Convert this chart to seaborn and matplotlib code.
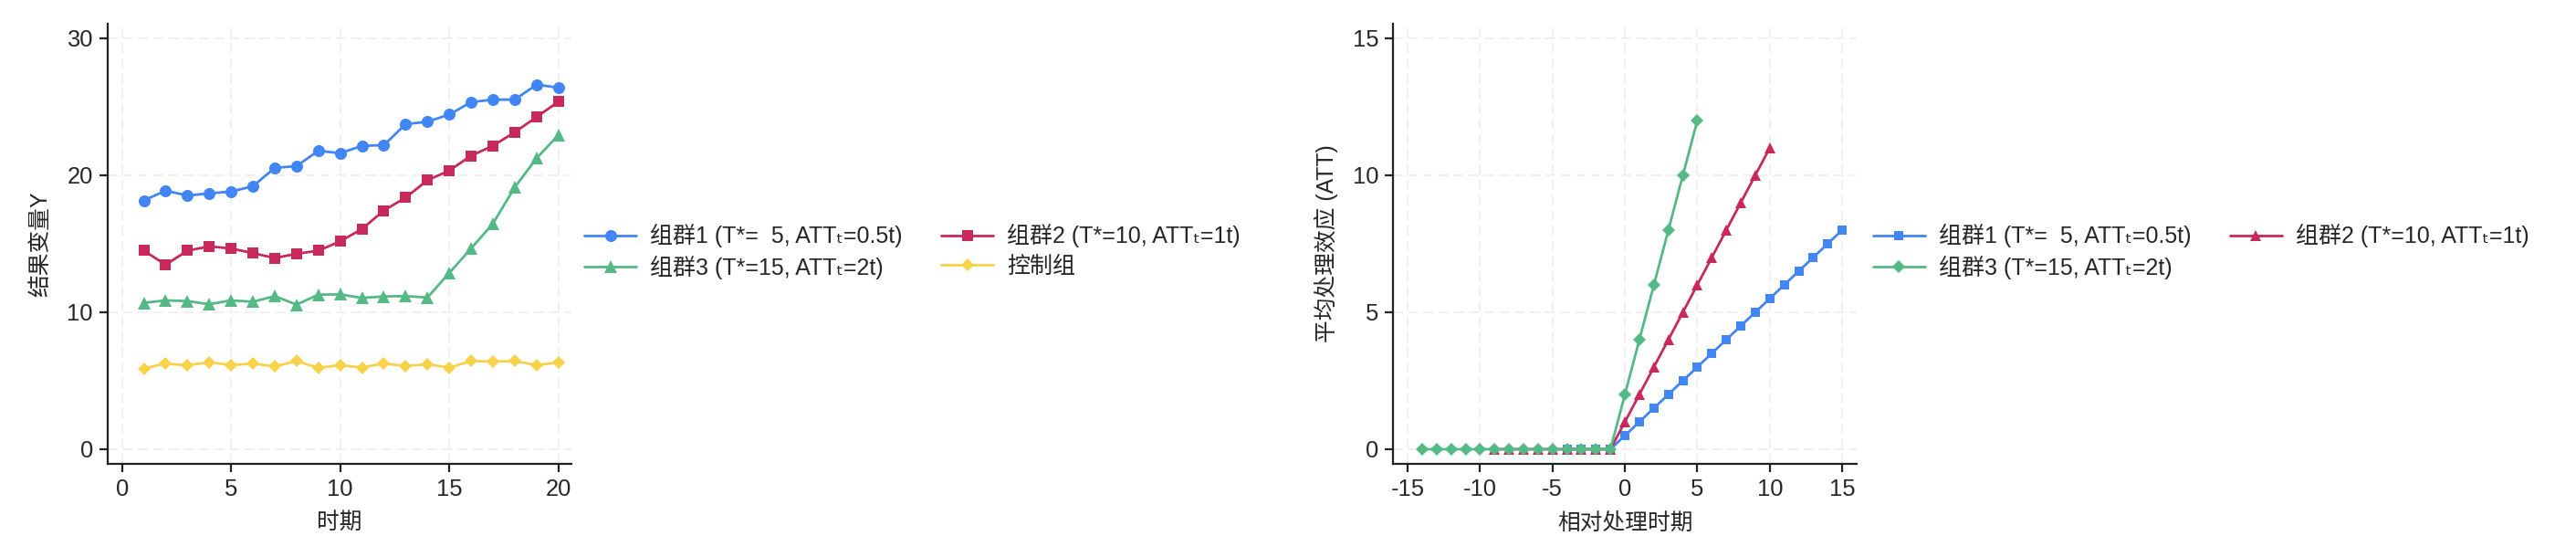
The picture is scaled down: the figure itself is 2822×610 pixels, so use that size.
import pandas as pd
import seaborn as sns
import matplotlib.pyplot as plt

# ---- data ----
periods = list(range(1, 21))
group1 = [18.15, 18.87, 18.51, 18.67, 18.80, 19.19, 20.53, 20.66, 21.78, 21.60,
          22.14, 22.19, 23.72, 23.90, 24.42, 25.33, 25.51, 25.51, 26.60, 26.39]
group2 = [14.49, 13.46, 14.49, 14.80, 14.65, 14.31, 13.95, 14.26, 14.49, 15.17,
          16.07, 17.42, 18.36, 19.63, 20.33, 21.42, 22.14, 23.13, 24.24, 25.36]
group3 = [10.68, 10.86, 10.81, 10.58, 10.86, 10.76, 11.17, 10.55, 11.28, 11.30,
          11.04, 11.15, 11.17, 11.07, 12.86, 14.65, 16.46, 19.11, 21.23, 22.92]
control = [5.89, 6.25, 6.12, 6.35, 6.14, 6.25, 6.04, 6.43, 5.94, 6.14,
           5.96, 6.25, 6.07, 6.20, 5.96, 6.43, 6.40, 6.43, 6.14, 6.33]

rel1 = list(range(-4, 16))
att1 = [0, 0, 0, 0, 0.5, 1.0, 1.5, 2.0, 2.5, 3.0, 3.5, 4.0, 4.5, 5.0, 5.5,
        6.0, 6.5, 7.0, 7.5, 8.0]
rel2 = list(range(-9, 11))
att2 = [0, 0, 0, 0, 0, 0, 0, 0, 0, 1, 2, 3, 4, 5, 6, 7, 8, 9, 10, 11]
rel3 = list(range(-14, 6))
att3 = [0] * 14 + [2, 4, 6, 8, 10, 12]

labels = ["组群1 (T*=  5, ATTₜ=0.5t)", "组群2 (T*=10, ATTₜ=1t)",
          "组群3 (T*=15, ATTₜ=2t)", "控制组"]

blue = "#4285F4"
red = "#C8285A"
green = "#55B985"
yellow = "#F7D24A"

sns.set_style("white")
plt.rcParams["font.family"] = ["Liberation Sans", "Noto Sans CJK SC", "DejaVu Sans"]
plt.rcParams["axes.unicode_minus"] = False

fig = plt.figure(figsize=(14.11, 3.05), dpi=200)
ax1 = fig.add_axes([0.0418, 0.1677, 0.1802, 0.7897])
ax2 = fig.add_axes([0.5408, 0.1677, 0.1800, 0.7897])

left = pd.DataFrame({"t": periods, "g1": group1, "g2": group2, "g3": group3, "c": control})
lw = 1.0
sns.lineplot(data=left, x="t", y="g1", color=blue, marker="o", markersize=4.7,
             markeredgewidth=0, lw=lw, ax=ax1, label=labels[0])
sns.lineplot(data=left, x="t", y="g2", color=red, marker="s", markersize=4.3,
             markeredgewidth=0, lw=lw, ax=ax1, label=labels[1])
sns.lineplot(data=left, x="t", y="g3", color=green, marker="^", markersize=4.9,
             markeredgewidth=0, lw=lw, ax=ax1, label=labels[2])
sns.lineplot(data=left, x="t", y="c", color=yellow, marker="D", markersize=3.7,
             markeredgewidth=0, lw=lw, ax=ax1, label=labels[3])

d1 = pd.DataFrame({"e": rel1, "att": att1})
d2 = pd.DataFrame({"e": rel2, "att": att2})
d3 = pd.DataFrame({"e": rel3, "att": att3})
sns.lineplot(data=d1, x="e", y="att", color=blue, marker="s", markersize=3.5,
             markeredgewidth=0, lw=lw, ax=ax2, label=labels[0])
sns.lineplot(data=d2, x="e", y="att", color=red, marker="^", markersize=4.1,
             markeredgewidth=0, lw=lw, ax=ax2, label=labels[1])
sns.lineplot(data=d3, x="e", y="att", color=green, marker="D", markersize=3.5,
             markeredgewidth=0, lw=lw, ax=ax2, label=labels[2])

ax1.set_xlim(-0.657, 20.62)
ax1.set_ylim(-1.05, 31.05)
ax1.set_xticks([0, 5, 10, 15, 20])
ax1.set_yticks([0, 10, 20, 30])
ax1.set_xlabel("时期")
ax1.set_ylabel("结果变量Y")

ax2.set_xlim(-16.0, 16.0)
ax2.set_ylim(-0.525, 15.525)
ax2.set_xticks([-15, -10, -5, 0, 5, 10, 15])
ax2.set_yticks([0, 5, 10, 15])
ax2.set_xlabel("相对处理时期")
ax2.set_ylabel("平均处理效应 (ATT)")

for ax in (ax1, ax2):
    for s in ("top", "right"):
        ax.spines[s].set_visible(False)
    for s in ("left", "bottom"):
        ax.spines[s].set_color("#222222")
        ax.spines[s].set_linewidth(0.8)
    ax.tick_params(axis="both", direction="out", length=3.3, width=0.8,
                   color="#222222", labelsize=9.2, pad=2.5,
                   left=True, bottom=True)
    ax.grid(True, ls=(0, (6.5, 3.5)), color="#EDEDED", lw=0.6)
    ax.set_axisbelow(True)
    ax.xaxis.label.set_size(8.9)
    ax.yaxis.label.set_size(8.9)
    ax.xaxis.labelpad = 4.5
ax1.yaxis.labelpad = 6.3
ax2.yaxis.labelpad = 5.5

leg_kw = dict(ncol=2, frameon=False, loc="center left", handlelength=2.28,
              handletextpad=0.6, columnspacing=1.7, labelspacing=0.35,
              borderpad=0, borderaxespad=0, fontsize=9)
# legend fills column by column, reference reads row by row
h, l = ax1.get_legend_handles_labels()
order = [0, 2, 1, 3]
ax1.legend([h[i] for i in order], [l[i] for i in order],
           bbox_to_anchor=(0.2268, 0.548), bbox_transform=fig.transFigure, **leg_kw)
h, l = ax2.get_legend_handles_labels()
order = [0, 2, 1]
ax2.legend([h[i] for i in order], [l[i] for i in order],
           bbox_to_anchor=(0.7271, 0.548), bbox_transform=fig.transFigure, **leg_kw)

fig.savefig("out.png", dpi=200)
